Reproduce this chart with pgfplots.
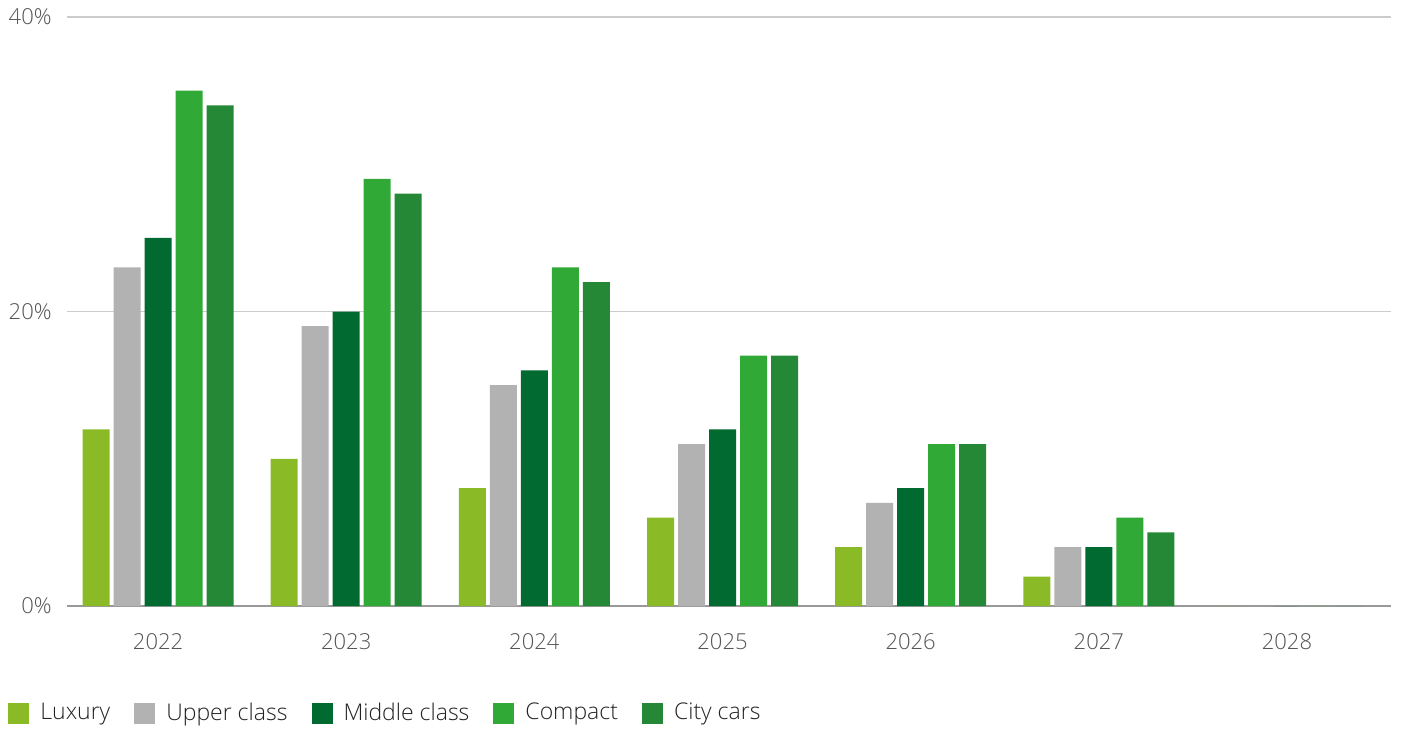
\documentclass[border=0pt]{standalone}
\usepackage{fontspec}
\setmainfont{Open Sans}[UprightFont=* Light]
\usepackage{pgfplots}
\pgfplotsset{compat=1.18}
\definecolor{lux}{HTML}{8ABB27}
\definecolor{upp}{HTML}{B2B2B2}
\definecolor{mid}{HTML}{006A31}
\definecolor{com}{HTML}{30A937}
\definecolor{city}{HTML}{248836}
\definecolor{gridc}{HTML}{CCCCCC}
\definecolor{axc}{HTML}{999999}
\definecolor{tickc}{HTML}{555555}
\definecolor{legc}{HTML}{222222}
\begin{document}
\begin{tikzpicture}
\path[use as bounding box] (-33.5pt,-61pt) rectangle (667.5pt,303pt);
\begin{axis}[
  at={(0,0)}, anchor=south west,
  width=662pt, height=294.5pt, scale only axis,
  ybar=2pt, bar width=13.5pt,
  xmin=-0.484, xmax=6.553, ymin=0, ymax=40,
  xtick={0,...,6}, xticklabels={2022,2023,2024,2025,2026,2027,2028},
  ytick={0,20,40}, yticklabels={0\%,20\%,40\%},
  ymajorgrids, grid style={draw=gridc, line width=0.6pt},
  axis x line*=bottom, axis y line*=left,
  x axis line style={draw=axc, line width=0.9pt},
  y axis line style={draw=none},
  major tick length=0pt,
  tick label style={font=\fontsize{11}{13}\selectfont, text=tickc},
  xticklabel style={anchor=center, inner sep=0pt, yshift=-18pt},
  yticklabel style={anchor=east, inner sep=0pt, xshift=-7.5pt},
  legend columns=-1,
  legend style={draw=none, fill=none, at={(axis description cs:0,0)}, anchor=west,
    xshift=-29.5pt, yshift=-53.5pt, inner sep=0pt,
    font=\fontsize{11.5}{13.5}\selectfont, text=legc,
    /tikz/every even column/.append style={column sep=10pt}},
  legend image code/.code={\fill[#1] (0pt,-5.25pt) rectangle (10.5pt,5.25pt); \path (14pt,0pt);},
]
\addplot[fill=lux, draw=none] coordinates {(0,12) (1,10) (2,8) (3,6) (4,4) (5,2) (6,0)};
\addplot[fill=upp, draw=none] coordinates {(0,23) (1,19) (2,15) (3,11) (4,7) (5,4) (6,0)};
\addplot[fill=mid, draw=none] coordinates {(0,25) (1,20) (2,16) (3,12) (4,8) (5,4) (6,0)};
\addplot[fill=com, draw=none] coordinates {(0,35) (1,29) (2,23) (3,17) (4,11) (5,6) (6,0)};
\addplot[fill=city, draw=none] coordinates {(0,34) (1,28) (2,22) (3,17) (4,11) (5,5) (6,0)};
\legend{Luxury, Upper class, Middle class, Compact, City cars}
\end{axis}
\end{tikzpicture}
\end{document}
